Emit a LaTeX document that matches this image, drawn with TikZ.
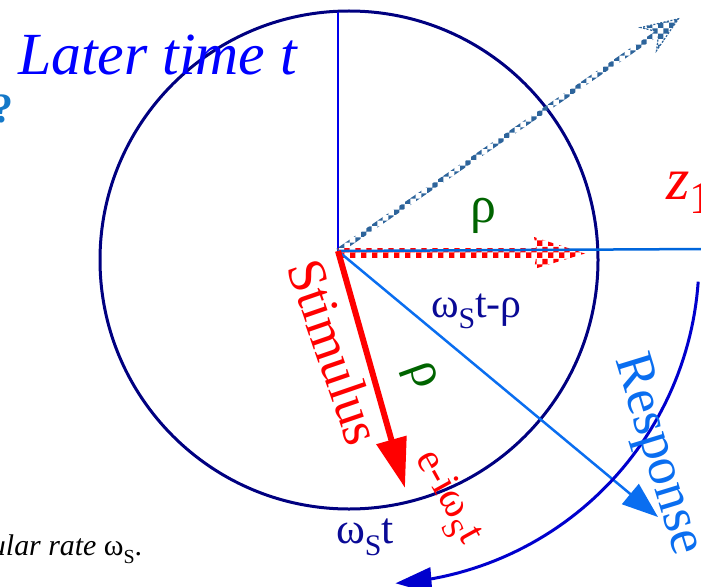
\documentclass[tikz,border=0pt]{standalone}
\usepackage{fontspec}
\setmainfont{Liberation Serif}
\usetikzlibrary{arrows.meta,patterns}
\definecolor{navyc}{RGB}{0,0,128}
\definecolor{labnavy}{RGB}{10,10,150}
\definecolor{vblue}{RGB}{0,0,235}
\definecolor{hblue}{RGB}{0,102,220}
\definecolor{rblue}{RGB}{10,110,240}
\definecolor{ablue}{RGB}{0,0,205}
\definecolor{steelc}{RGB}{45,100,155}
\definecolor{dgreen}{RGB}{0,100,0}
\definecolor{qblue}{RGB}{20,120,200}
\newcommand\lsub[2]{\raisebox{-0.28em}{\fontsize{#1}{#1}\selectfont #2}}
\tikzset{
  lbl/.style={inner sep=0pt, outer sep=0pt},
  chk/.style={pattern=checkerboard, pattern color=#1}
}
\begin{document}
\begin{tikzpicture}[x=1bp,y=-1bp]
\useasboundingbox (0,0) rectangle (701,587);
\clip (0,0) rectangle (701,587);

\coordinate (O) at (338,251);
\coordinate (C) at (349,260);
\coordinate (Vtop) at (338,12);
\coordinate (Hend) at (705,249);
\coordinate (Stip) at (405,488);
\coordinate (Rtip) at (658,517);

% main circle
\draw[navyc, line width=3bp] (C) circle[radius=249];

% vertical axis
\draw[vblue, line width=2.4bp] (O) -- (Vtop);

% diagonal checkered arrow
\begin{scope}[shift={(O)}, rotate=34.3]
  \fill[chk=steelc]
    (0,-2.8) -- (386,-2.8) -- (376,-14) -- (412,0) -- (376,14) -- (386,2.8) -- (0,2.8) -- cycle;
  \draw[steelc, line width=1.2bp, dash pattern=on 2bp off 1.5bp]
    (386,-2.8) -- (376,-14) -- (412,0) -- (376,14) -- (386,2.8);
\end{scope}

% red checkered arrow
\begin{scope}[shift={(O)}]
  \fill[chk=red]
    (0,-3) -- (198,-3) -- (196,-14) -- (247,2.5) -- (196,18) -- (198,7) -- (0,7) -- cycle;
\end{scope}

% horizontal axis
\draw[hblue, line width=2.5bp] (O) -- (Hend);

% response
\draw[rblue, line width=2.5bp, -{Triangle[length=36bp,width=26bp]}] (O) -- (Rtip);

% stimulus
\draw[red, line width=6bp, -{Triangle[length=50bp,width=30bp]}] (O) -- (Stip);

% outer arc
\draw[ablue, line width=3bp, -{Triangle[length=36bp,width=26bp]}]
  plot[domain=4:86.2, samples=60] ({374+325*cos(\x)},{259+325*sin(\x)});

% texts
\node[lbl, anchor=base west, text=blue] (later) at (18,75)
  {\fontsize{60}{62}\selectfont\itshape Later time t};
\node[lbl, anchor=base east, text=qblue] (q) at (13,123)
  {\fontsize{42}{44}\selectfont\bfseries ?};
\node[lbl, anchor=base west, text=red] (z) at (666,200)
  {\fontsize{60}{62}\selectfont\itshape z\upshape\raisebox{-0.22em}{\fontsize{46}{46}\selectfont 1}};
\node[lbl, anchor=base, text=dgreen] (rho1) at (483,222)
  {\fontsize{52}{54}\selectfont ρ};
\node[lbl, anchor=base west, text=labnavy] (wtr) at (431,317)
  {\fontsize{42}{44}\selectfont ω\lsub{30}{S}t-ρ};
\node[lbl, rotate=-71, text=red] (stim) at (335,352)
  {\fontsize{54}{56}\selectfont Stimulus};
\node[lbl, rotate=-70, text=dgreen] (rho2) at (419,376)
  {\fontsize{52}{54}\selectfont ρ};
\node[lbl, rotate=-61, text=red] (expo) at (447,498)
  {\fontsize{42}{44}\selectfont e-iω\lsub{30}{S}t};
\node[lbl, rotate=-73, text=rblue] (resp) at (657,455)
  {\fontsize{54}{56}\selectfont Response};
\node[lbl, anchor=base west, text=labnavy] (wt) at (336,543)
  {\fontsize{44}{46}\selectfont ω\lsub{30}{S}t};
\node[lbl, anchor=base west] (rate) at (-9,555)
  {\fontsize{30}{32}\selectfont\itshape ular rate \upshape ω\lsub{20}{S}.};
\end{tikzpicture}
\end{document}
